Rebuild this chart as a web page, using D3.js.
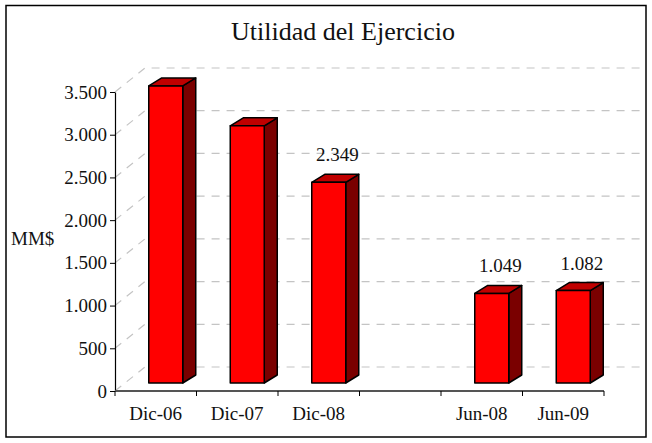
<!DOCTYPE html>
<html>
<head>
<meta charset="utf-8">
<script src="https://cdn.jsdelivr.net/npm/d3@7"></script>
<style>
  body { margin: 0; background: #fff; }
  text { font-family: "Liberation Serif", Tinos, "Times New Roman", Times, "DejaVu Serif", serif; }
</style>
</head>
<body>
<div id="chart"></div>
<script>
// chart data
const categories = ["Dic-06", "Dic-07", "Dic-08", "", "Jun-08", "Jun-09"];
const values = [3478, 3010, 2349, null, 1049, 1082];
const labelled = ["Dic-08", "Jun-08", "Jun-09"];
const yTicks = [0, 500, 1000, 1500, 2000, 2500, 3000, 3500];
const title = "Utilidad del Ejercicio";
const yTitle = "MM$";

const width = 652, height = 443;
const fmt = d3.formatLocale({ decimal: ",", thousands: ".", grouping: [3], currency: ["", ""] }).format(",d");

const svg = d3.select("#chart").append("svg")
  .attr("width", width).attr("height", height);

// outer frame
svg.append("rect")
  .attr("x", 6).attr("y", 5.5).attr("width", 640).attr("height", 431.5)
  .attr("fill", "none").attr("stroke", "#000").attr("stroke-width", 1.5);

const x = d3.scaleBand().domain(categories).range([115, 604]).padding(0);
const y = d3.scaleLinear().domain([0, 3500]).range([391, 92]);

// 3D offsets: floor depth and bar placement within it
const wall = { dx: 30, dy: -24 };
const barFront = { dx: 10, dy: -8 };
const barDepth = { dx: 13, dy: -8 };
const barW = 34;

// gridlines: left wall diagonal + back wall horizontal
const grid = svg.append("g").attr("stroke", "#c4c4c4").attr("stroke-width", 1.2)
  .attr("stroke-dasharray", "8,7").attr("fill", "none");
yTicks.forEach(t => {
  const y0 = y(t);
  grid.append("path")
    .attr("d", `M115,${y0}L${115 + wall.dx},${y0 + wall.dy}L${604 + wall.dx + 7},${y0 + wall.dy}`);
});

function label(sel, size) {
  return sel.attr("font-size", size).attr("fill", "#111");
}

// bars
const data = categories.map((c, i) => ({ c, v: values[i] })).filter(d => d.v != null);
const bars = svg.append("g").attr("stroke", "#000").attr("stroke-width", 1.5).attr("stroke-linejoin", "round");
data.forEach(d => {
  const x0 = x(d.c) + x.bandwidth() / 2 - barW / 2 + barFront.dx;
  const x1 = x0 + barW;
  const yb = y(0) + barFront.dy;
  const yt = y(d.v) + barFront.dy;
  const ddx = barDepth.dx, ddy = barDepth.dy;
  // side
  bars.append("path").attr("fill", "#7a0000")
    .attr("d", `M${x1},${yb}L${x1 + ddx},${yb + ddy}L${x1 + ddx},${yt + ddy}L${x1},${yt}Z`);
  // top
  bars.append("path").attr("fill", "#c00000")
    .attr("d", `M${x0},${yt}L${x0 + ddx},${yt + ddy}L${x1 + ddx},${yt + ddy}L${x1},${yt}Z`);
  // front
  bars.append("rect").attr("fill", "#ff0000")
    .attr("x", x0).attr("y", yt).attr("width", barW).attr("height", yb - yt);

  if (labelled.includes(d.c)) {
    svg.append("text")
      .attr("x", x0 + (barW + ddx) / 2 + 2)
      .attr("y", yt + ddy - 13)
      .attr("text-anchor", "middle")
      .call(label, 19)
      .text(fmt(d.v));
  }
});

// y axis
const yAxis = svg.append("g").attr("transform", "translate(115,0)")
  .call(d3.axisLeft(y).tickValues(yTicks).tickSize(5).tickSizeOuter(0).tickFormat(fmt));
yAxis.attr("font-family", null);
yAxis.select(".domain").attr("stroke", "#000").attr("stroke-width", 1.2);
yAxis.selectAll(".tick line").attr("stroke", "#000");
yAxis.selectAll(".tick text").call(label, 19).attr("x", -8);

// x axis: line, ticks at band edges, labels at centres
const xa = svg.append("g");
xa.append("line").attr("x1", 115).attr("x2", 604).attr("y1", 391).attr("y2", 391)
  .attr("stroke", "#555").attr("stroke-width", 2);
const edges = categories.map(c => x(c)).concat([x(categories[categories.length - 1]) + x.bandwidth()]);
xa.selectAll(".edge").data(edges).join("line")
  .attr("x1", d => d).attr("x2", d => d).attr("y1", 391).attr("y2", 396)
  .attr("stroke", "#000").attr("stroke-width", 1);
xa.selectAll(".lbl").data(categories).join("text")
  .attr("x", d => x(d) + x.bandwidth() / 2)
  .attr("y", 420)
  .attr("text-anchor", "middle")
  .call(label, 19)
  .text(d => d);

// titles
svg.append("text").attr("x", 343).attr("y", 40).attr("text-anchor", "middle")
  .call(label, 26).text(title);
svg.append("text").attr("x", 11).attr("y", 245).call(label, 19).text(yTitle);
</script>
</body>
</html>
